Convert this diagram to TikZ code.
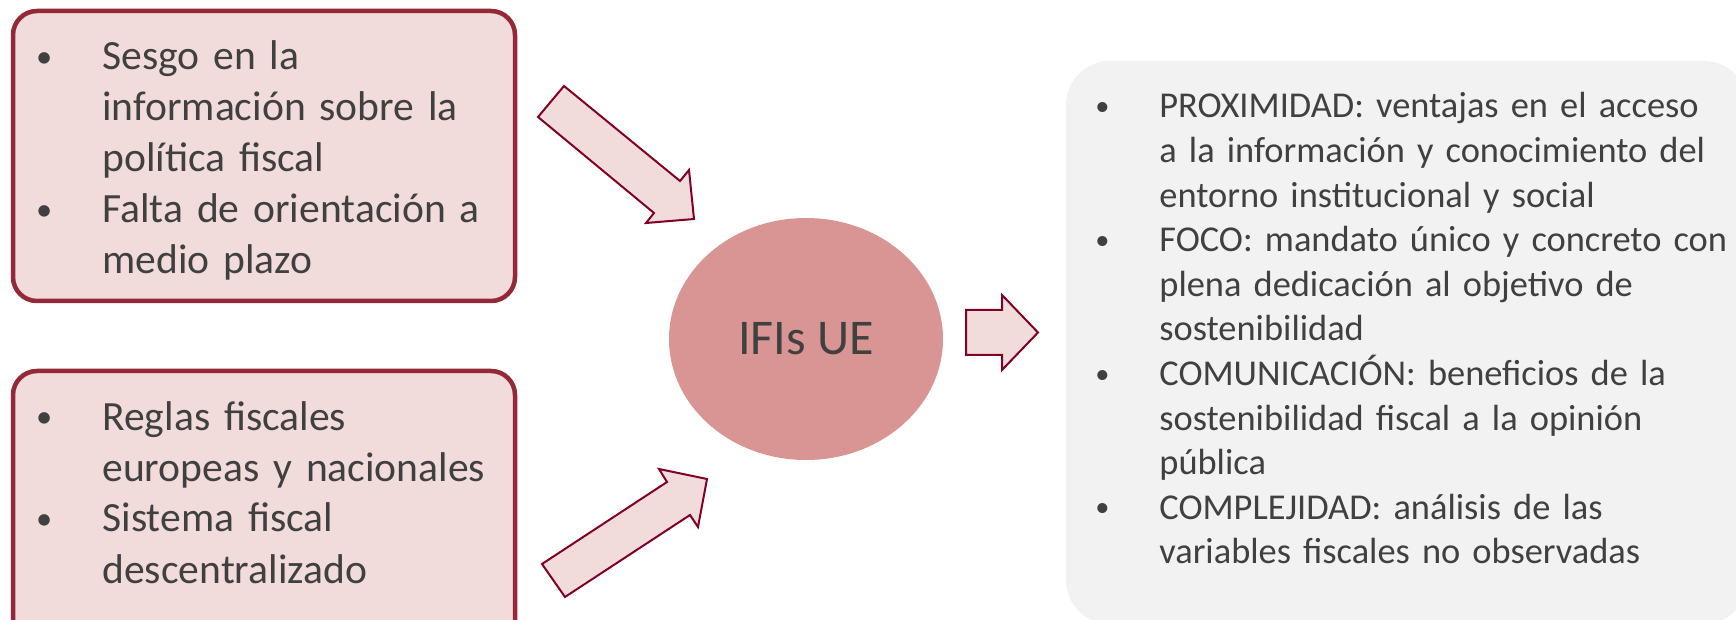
\documentclass[tikz,border=0pt]{standalone}
\usepackage{fontspec}
\setmainfont{Carlito}
\usetikzlibrary{shapes.geometric}
\definecolor{ifired}{RGB}{149,39,55}
\definecolor{ifipink}{RGB}{242,220,219}
\definecolor{ifirose}{RGB}{217,149,148}
\definecolor{arrowred}{RGB}{128,0,38}
\definecolor{panelgray}{RGB}{242,242,242}
\definecolor{txtgray}{RGB}{64,64,64}
\newcommand{\bul}{\leavevmode\llap{\raisebox{0.07em}{\scalebox{0.78}{\textbullet}}\hspace{25pt}}}

\begin{document}
\begin{tikzpicture}[x=0.5pt, y=-0.5pt,
  probbox/.style={draw=ifired, fill=ifipink, line width=2.25pt, rounded corners=12pt},
  blockarrow/.style={draw=arrowred, fill=ifipink, line width=1pt, line join=miter},
  listtext/.style={anchor=base west, inner sep=0pt, align=left, text=txtgray},
  bigfont/.style={font=\fontsize{20.8}{25.5}\selectfont},
  smallfont/.style={font=\fontsize{18.2}{22.3}\selectfont}]
\useasboundingbox (0,0) rectangle (1736,620);
\clip (0,0) rectangle (1736,620);
% Grey panel on the right
\fill[panelgray, rounded corners=22pt] (1066,61) rectangle (1748,624);
% Problem boxes
\draw[probbox] (13,11) rectangle (515,301);
\draw[probbox] (13,371) rectangle (515,680);
% Block arrows
\draw[blockarrow] (538,117) -- (564,86) -- (680,181) -- (689,170) -- (694,219) -- (646,223) -- (654,213) -- cycle;
\draw[blockarrow] (542,564) -- (565,597) -- (690,515) -- (698,527) -- (707,479) -- (659,469) -- (667,482) -- cycle;
\draw[blockarrow] (966,310) -- (1002,310) -- (1002,295) -- (1038,332.5) -- (1002,370) -- (1002,355) -- (966,355) -- cycle;
% Central ellipse
\node[ellipse, fill=ifirose, inner sep=0pt, minimum width=137pt, minimum height=121pt,
      text=txtgray, font=\fontsize{25}{30}\selectfont] (ifis) at (806,339) {IFIs UE};
% Box texts
\node[listtext, bigfont, text width=200pt] (sesgo) at (102,70)
  {\bul Sesgo en la\\información sobre la\\política fiscal\\\bul Falta de orientación a\\medio plazo};
\node[listtext, bigfont, text width=200pt] (reglas) at (102,430)
  {\bul Reglas fiscales\\europeas y nacionales\\\bul Sistema fiscal\\descentralizado};
\node[listtext, smallfont, text width=300pt] (ventajas) at (1159,118)
  {\bul PROXIMIDAD: ventajas en el acceso\\a la información y conocimiento del\\entorno institucional y social\\
   \bul FOCO: mandato único y concreto con\\plena dedicación al objetivo de\\sostenibilidad\\
   \bul COMUNICACIÓN: beneficios de la\\sostenibilidad fiscal a la opinión\\pública\\
   \bul COMPLEJIDAD: análisis de las\\variables fiscales no observadas};
\end{tikzpicture}
\end{document}
